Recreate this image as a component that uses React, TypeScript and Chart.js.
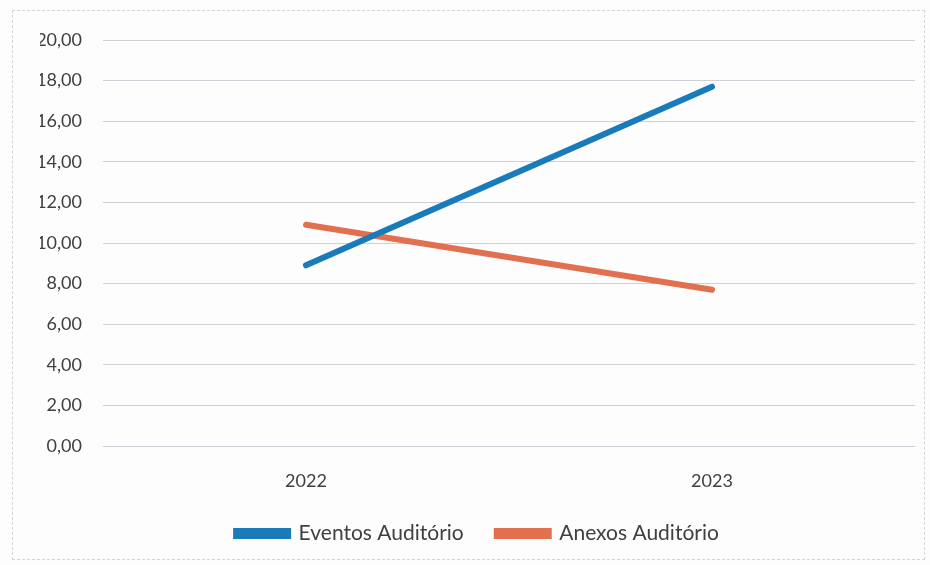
import React, { useEffect, useRef } from "react";
import { Chart, registerables } from "chart.js";

Chart.register(...registerables);

const categories = ["2022", "2023"];
const eventosValues = [8.9, 17.7];
const anexosValues = [10.9, 7.7];
const seriesNames = ["Eventos Auditório", "Anexos Auditório"];

const BLUE = "#1a7bbb";
const ORANGE = "#e2704e";
const FONT = "Lato, 'Open Sans', sans-serif";

export default function App() {
  const ref = useRef<HTMLCanvasElement | null>(null);

  useEffect(() => {
    document.body.style.margin = "0";
    const ctx = ref.current;
    if (!ctx) return;
    const chart = new Chart(ctx, {
      type: "line",
      data: {
        labels: categories,
        datasets: [
          {
            label: seriesNames[0],
            data: eventosValues,
            borderColor: BLUE,
            backgroundColor: BLUE,
            borderWidth: 6,
            borderCapStyle: "round",
            pointRadius: 0,
            pointHoverRadius: 0,
          },
          {
            label: seriesNames[1],
            data: anexosValues,
            borderColor: ORANGE,
            backgroundColor: ORANGE,
            borderWidth: 6,
            borderCapStyle: "round",
            pointRadius: 0,
            pointHoverRadius: 0,
          },
        ],
      },
      options: {
        animation: false,
        responsive: false,
        maintainAspectRatio: false,
        layout: { padding: { top: 40, left: 40, right: 15, bottom: 11 } },
        plugins: {
          tooltip: { enabled: false },
          legend: {
            position: "bottom",
            labels: {
              color: "#404040",
              font: { family: FONT, size: 21 },
              boxWidth: 52,
              boxHeight: 5,
              padding: 33,
            },
          },
        },
        scales: {
          x: {
            offset: true,
            grid: { display: false, drawTicks: false },
            border: { display: false },
            ticks: {
              color: "#404040",
              font: { family: FONT, size: 18 },
              padding: 24,
            },
            afterFit: (scale: any) => {
              scale.height = 44;
            },
          },
          y: {
            min: 0,
            max: 20,
            grid: { color: "#cfcfd7", lineWidth: 1, drawTicks: false },
            border: { display: false },
            ticks: {
              stepSize: 2,
              color: "#404040",
              font: { family: FONT, size: 18 },
              padding: 21,
              callback: (v: any) => Number(v).toFixed(2).replace(".", ","),
            },
            afterFit: (scale: any) => {
              scale.width = 63;
            },
          },
        },
      },
    });
    return () => chart.destroy();
  }, []);

  return (
    <div style={{ position: "relative", width: 930, height: 565, background: "#fdfdfe" }}>
      <div
        style={{
          position: "absolute",
          left: 12,
          top: 10,
          width: 913,
          height: 550,
          border: "1px dashed #d4d4d8",
          boxSizing: "border-box",
        }}
      />
      <canvas ref={ref} width={930} height={565} style={{ position: "absolute", left: 0, top: 0 }} />
    </div>
  );
}
